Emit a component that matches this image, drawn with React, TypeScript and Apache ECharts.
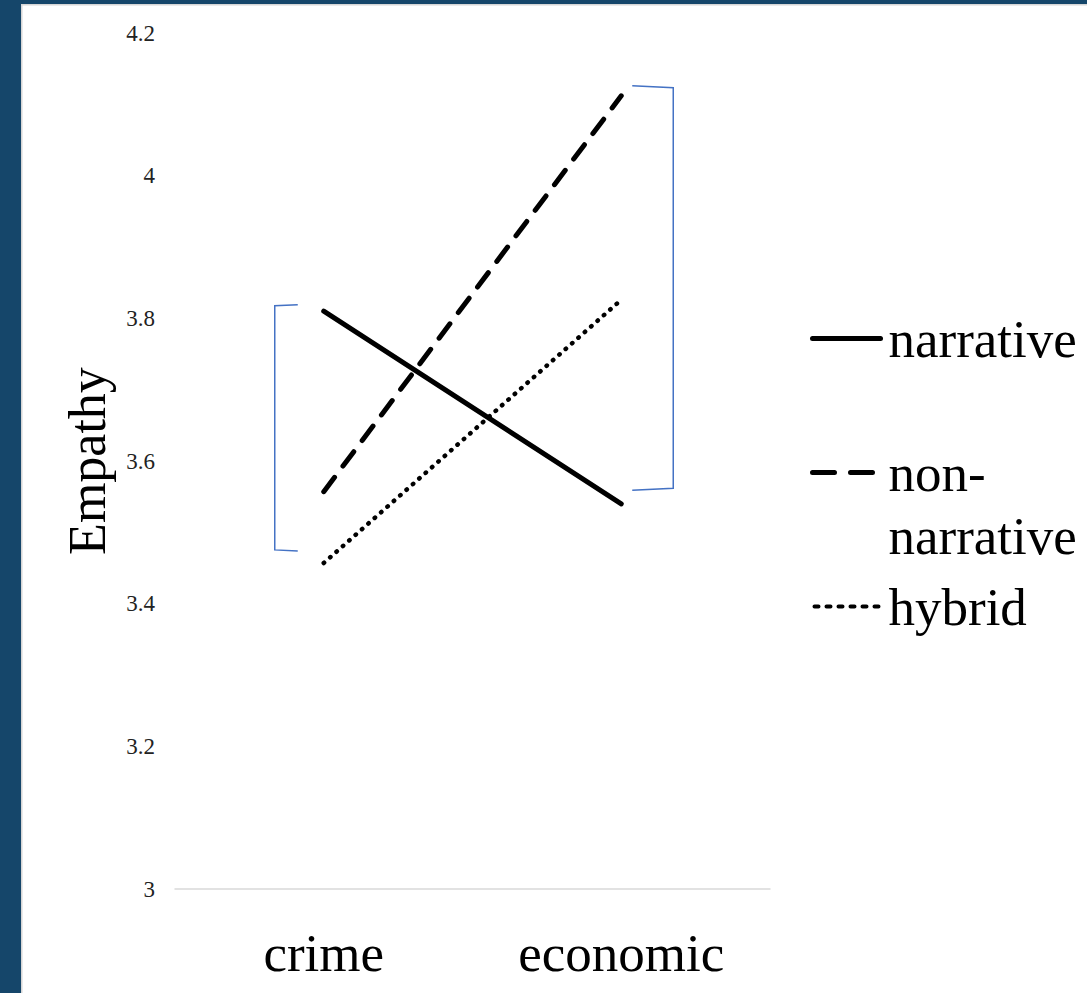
import React, { useEffect, useRef } from "react";
import * as echarts from "echarts";

const categories = ["crime", "economic"];
const narrative = [3.81, 3.54];
const nonNarrative = [3.557, 4.112];
const hybrid = [3.457, 3.826];
const yTicks = { min: 3, max: 4.2, interval: 0.2 };
const leftBracket = [3.819, 3.474];
const rightBracket = [4.126, 3.559];

const FONT = "'Liberation Serif', 'Times New Roman', serif";

export default function App() {
  const ref = useRef<HTMLDivElement>(null);
  useEffect(() => {
    document.body.style.margin = "0";
    const chart = echarts.init(ref.current!, null, { renderer: "svg" });
    const lineSeries = (name: string, data: number[], lineStyle: any) => ({
      name,
      type: "line",
      data,
      symbol: "none",
      lineStyle: { color: "#000", cap: "round", ...lineStyle },
      itemStyle: { color: "#000" },
    });
    const hidden = { color: "rgba(0,0,0,0)", borderColor: "rgba(0,0,0,0)", borderWidth: 0 };
    chart.setOption({
      animation: false,
      backgroundColor: "#fff",
      grid: { left: 175, right: 317, top: 33, bottom: 104 },
      xAxis: {
        type: "category",
        data: categories,
        axisTick: { show: false },
        axisLine: { lineStyle: { color: "#d9d9d9", width: 1.5 } },
        axisLabel: { color: "#000", fontFamily: FONT, fontSize: 53, margin: 37 },
      },
      yAxis: {
        type: "value",
        min: yTicks.min,
        max: yTicks.max,
        interval: yTicks.interval,
        splitLine: { show: false },
        axisLine: { show: false },
        axisTick: { show: false },
        axisLabel: { color: "#222", fontFamily: FONT, fontSize: 23, margin: 20 },
        name: "Empathy",
        nameLocation: "middle",
        nameGap: 62,
        nameTextStyle: { color: "#000", fontFamily: FONT, fontSize: 52 },
      },
      legend: {
        orient: "vertical",
        left: 810,
        top: 307,
        padding: 0,
        itemWidth: 68,
        itemHeight: 14,
        itemGap: 8,
        itemStyle: hidden,
        data: [
          { name: "narrative", itemStyle: hidden, lineStyle: { width: 5, type: "solid" } },
          { name: "non-narrative", itemStyle: hidden, lineStyle: { width: 5, type: [22, 16] } },
          { name: "hybrid", itemStyle: hidden, lineStyle: { width: 4, type: [4, 8], dashOffset: -2 } },
        ],
        formatter: (name: string) => (name === "non-narrative" ? " \nnon-\nnarrative" : name),
        textStyle: {
          color: "#000",
          fontFamily: FONT,
          fontSize: 53,
          lineHeight: 63,
          padding: [0, 0, 0, 3],
        },
      },
      series: [
        lineSeries("narrative", narrative, { width: 5, type: "solid" }),
        lineSeries("non-narrative", nonNarrative, { width: 5, type: [18, 14] }),
        lineSeries("hybrid", hybrid, { width: 4.5, type: [0.5, 8] }),
      ],
    });

    const p = (cat: string, v: number) => chart.convertToPixel({ gridIndex: 0 }, [cat, v]) as number[];
    const lt = p(categories[0], leftBracket[0]);
    const lb = p(categories[0], leftBracket[1]);
    const rt = p(categories[1], rightBracket[0]);
    const rb = p(categories[1], rightBracket[1]);
    const blue = { stroke: "#4472C4", lineWidth: 1.5, fill: "none" };
    chart.setOption({
      graphic: [
        { type: "rect", shape: { x: 0, y: 0, width: 22, height: 993 }, style: { fill: "#15466A" }, z: 100 },
        { type: "rect", shape: { x: 0, y: 0, width: 1087, height: 4 }, style: { fill: "#15466A" }, z: 100 },
        { type: "rect", shape: { x: 21, y: 4, width: 1.5, height: 989 }, style: { fill: "#d6d6d6" }, z: 101 },
        { type: "rect", shape: { x: 21, y: 4, width: 1066, height: 1.5 }, style: { fill: "#d6d6d6" }, z: 101 },
        {
          type: "polyline",
          shape: { points: [[lt[0] - 26, lt[1]], [lt[0] - 49, lt[1] + 1], [lb[0] - 49, lb[1] - 1], [lb[0] - 26, lb[1]]] },
          style: blue,
        },
        {
          type: "polyline",
          shape: { points: [[rt[0] + 11, rt[1]], [rt[0] + 52, rt[1] + 2], [rb[0] + 52, rb[1] - 2], [rb[0] + 11, rb[1]]] },
          style: blue,
        },
      ],
    });
    return () => chart.dispose();
  }, []);
  return <div ref={ref} style={{ position: "absolute", left: 0, top: 0, width: 1087, height: 993 }} />;
}
